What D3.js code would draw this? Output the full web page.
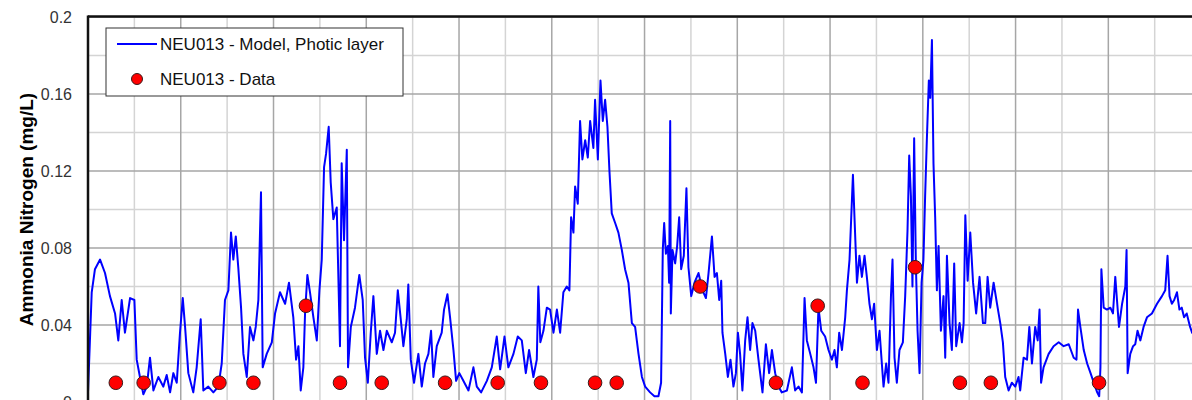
<!DOCTYPE html>
<html>
<head>
<meta charset="utf-8">
<script src="https://cdn.jsdelivr.net/npm/d3@7"></script>
<style>
    body { margin: 0; background: #fff; }
    svg { display: block; font-family: Arial, "Liberation Sans", sans-serif; }
</style>
</head>
<body>
<div id="chart"></div>
<script>
// model output: [day, ammonia nitrogen mg/L]
var modelSeries = [
    [0, 0.005], [2.4, 0.057], [4.5, 0.069], [7.8, 0.074], [11, 0.067], [14.2, 0.055], [17.5, 0.046], [19.6, 0.032],
    [21.8, 0.053], [23.9, 0.036], [27.2, 0.054], [30, 0.053], [31.5, 0.022], [33.6, 0.013], [35.8, 0.004], [38, 0.008],
    [40.1, 0.023], [42.3, 0.006], [45.5, 0.013], [48.7, 0.008], [50.9, 0.014], [53.1, 0.005], [55.2, 0.015], [57.4, 0.010],
    [59.5, 0.036], [61.3, 0.054], [62.8, 0.039], [64.9, 0.015], [68.1, 0.005], [70.3, 0.018], [72.9, 0.043], [74.6, 0.006],
    [77.8, 0.008], [81.1, 0.005], [84.3, 0.008], [86.5, 0.020], [88.6, 0.053], [90.8, 0.058], [92.5, 0.088], [94, 0.074],
    [95.6, 0.086], [97.2, 0.070], [99, 0.049], [100.5, 0.025], [102.7, 0.013], [104.8, 0.039], [107, 0.032], [108.5, 0.039],
    [110.2, 0.053], [111.9, 0.109], [113, 0.018], [115.6, 0.025], [118.9, 0.031],
    [121, 0.046], [124.2, 0.057], [127.5, 0.051], [130, 0.062], [132.8, 0.044], [134.6, 0.022], [136.1, 0.029], [137.6, 0.006],
    [139.3, 0.018], [140.4, 0.046], [141.9, 0.066], [143.6, 0.057], [145.8, 0.044], [148, 0.032], [149.7, 0.058], [151.2, 0.074],
    [152.7, 0.122], [154, 0.129], [155.7, 0.143], [157, 0.114], [158.7, 0.095], [160.9, 0.101], [163, 0.029], [164.1, 0.124],
    [165.6, 0.084], [167.4, 0.131], [168.2, 0.018], [170, 0.039], [172.7, 0.049], [175.5, 0.066], [177.7, 0.053], [179.2, 0.023],
    [181, 0.010], [182.9, 0.036], [184.6, 0.055], [186.8, 0.025], [188.9, 0.037], [191.1, 0.027], [193.3, 0.037], [196.5, 0.031],
    [198.6, 0.036], [200.4, 0.058], [202.3, 0.043], [204, 0.029], [206.2, 0.043], [207.2, 0.061], [208.8, 0.022], [210.9, 0.010],
    [213.7, 0.025], [215.9, 0.008], [218, 0.020], [220.2, 0.025], [221.9, 0.037], [223.4, 0.013], [225.6, 0.029], [228.8, 0.036],
    [230.3, 0.048], [232.5, 0.056], [234.2, 0.044], [236.4, 0.027], [238.1, 0.011],
    [240.2, 0.015], [242.8, 0.011], [246.1, 0.006], [249.3, 0.018], [251.5, 0.008], [254.3, 0.005], [258, 0.011], [261.2, 0.018],
    [264.4, 0.034], [266.6, 0.017], [269.4, 0.034], [271.9, 0.018], [275.2, 0.025], [278, 0.034], [280.6, 0.032], [283.2, 0.015],
    [285.3, 0.027], [288.1, 0.013], [290.3, 0.022], [291.3, 0.060], [292.6, 0.031], [294.6, 0.037], [296.8, 0.049], [298.9, 0.048],
    [301.1, 0.036], [303.3, 0.048], [305.4, 0.036], [307.5, 0.057], [309.7, 0.060], [311.4, 0.058], [312.5, 0.096], [314, 0.088],
    [315.1, 0.112], [316.8, 0.103], [318.3, 0.146], [319.8, 0.126], [321.6, 0.136], [323.3, 0.127], [324.8, 0.146], [326.9, 0.132],
    [328, 0.157], [329.8, 0.126], [331.5, 0.167], [333, 0.146], [334.5, 0.157], [336, 0.143], [337.3, 0.120], [338.8, 0.098],
    [341, 0.093], [343.1, 0.088], [345.3, 0.079], [347.4, 0.069], [349.6, 0.062], [351.8, 0.041], [353.9, 0.039], [356.1, 0.025],
    [358.3, 0.013], [360.4, 0.008], [363.6, 0.005], [366.4, 0.003],
    [369, 0.003], [370.7, 0.010], [371.8, 0.079], [372.7, 0.093], [373.8, 0.077], [375.1, 0.081], [375.9, 0.062], [376.6, 0.146],
    [377, 0.046], [378.1, 0.079], [379.8, 0.072], [381.1, 0.081], [382.4, 0.096], [383.7, 0.069], [385.4, 0.076], [387.1, 0.111],
    [388.4, 0.070], [390.2, 0.055], [392.3, 0.062], [394.9, 0.067], [397.5, 0.058], [399.7, 0.054], [401.4, 0.067], [403.6, 0.086],
    [405.3, 0.065], [406.8, 0.067], [408.3, 0.053], [409.6, 0.063], [410.4, 0.036], [412.2, 0.025], [413.9, 0.013], [415.6, 0.022],
    [417.5, 0.008], [419.1, 0.015], [420.4, 0.036], [421.8, 0.025], [423.3, 0.006], [425.1, 0.032], [426.6, 0.044], [428.3, 0.027],
    [429.8, 0.041], [431.6, 0.037], [433.7, 0.022], [436.3, 0.005], [438.5, 0.030], [440.6, 0.015], [442.4, 0.027], [444.5, 0.015],
    [446.6, 0.008], [448.8, 0.005], [452.1, 0.006], [455.3, 0.018], [457.4, 0.006], [459.6, 0.008], [461.8, 0.005], [463.5, 0.054],
    [465, 0.032], [467.2, 0.025], [469.3, 0.018], [470.9, 0.010], [472.5, 0.049], [474.3, 0.037], [476.8, 0.034], [479, 0.027],
    [481.2, 0.022], [482.9, 0.027],
    [484.4, 0.018], [485.9, 0.036], [487.7, 0.027], [489.8, 0.044], [490.9, 0.058], [492.6, 0.074], [493.7, 0.096], [494.8, 0.118],
    [495.8, 0.096], [497.4, 0.062], [499, 0.076], [500.6, 0.065], [502.3, 0.076], [503.8, 0.065], [505.5, 0.051], [507.1, 0.043],
    [508.5, 0.051], [510.3, 0.027], [512, 0.037], [513.5, 0.020], [514.6, 0.008], [516.3, 0.020], [517.8, 0.010], [519.4, 0.055],
    [520.4, 0.074], [521.7, 0.023], [523.2, 0.010], [524.9, 0.027], [527.1, 0.031], [528.6, 0.055], [530.1, 0.089], [531.2, 0.128],
    [532.3, 0.107], [533.3, 0.060], [534.4, 0.137], [535.5, 0.072], [536.6, 0.037], [537.9, 0.015], [539.2, 0.062], [540.4, 0.074],
    [541.5, 0.107], [542.6, 0.136], [543.9, 0.167], [544.8, 0.158], [545.9, 0.188], [546.9, 0.124], [548, 0.096], [549.1, 0.058],
    [550.2, 0.081], [551.7, 0.037], [553.4, 0.055], [554.5, 0.023], [555.6, 0.076], [557.3, 0.041], [558.8, 0.027], [560.3, 0.072],
    [561.6, 0.029], [563.8, 0.041], [565.3, 0.031], [566.4, 0.041], [567.5, 0.097], [569, 0.063], [570.7, 0.088], [572.5, 0.062],
    [574.5, 0.046], [576.7, 0.065], [578.9, 0.041], [580.4, 0.041], [581.9, 0.065], [583.6, 0.049], [585.8, 0.062], [588, 0.051],
    [590.1, 0.041], [591.8, 0.031], [593.3, 0.013], [595.5, 0.006], [597.6, 0.010], [599.8, 0.008], [601.9, 0.013],
    [603, 0.006], [605.2, 0.023], [607.4, 0.022], [608.9, 0.039], [610.6, 0.020], [612.7, 0.039], [614.3, 0.032], [615.5, 0.048],
    [616.5, 0.010], [618.1, 0.018], [621.4, 0.025], [624.6, 0.029], [627.9, 0.031], [631.1, 0.029], [634.4, 0.030], [637.6, 0.023],
    [639.4, 0.022], [640.4, 0.048], [641.9, 0.039], [644.1, 0.027], [646.3, 0.020], [648.5, 0.015], [650.6, 0.010], [652.8, 0.005],
    [654.1, 0.003], [654.9, 0.018], [655.5, 0.069], [657, 0.049], [659.1, 0.048], [661.3, 0.049], [663, 0.046], [664.5, 0.065],
    [665.6, 0.053], [666.9, 0.039], [668.9, 0.051], [671, 0.060], [671.8, 0.079], [672.5, 0.015], [674.2, 0.025], [676, 0.029],
    [677.4, 0.030], [678.9, 0.037], [680.7, 0.032], [682.8, 0.039], [685, 0.044], [688.2, 0.046], [691.5, 0.051], [694.7, 0.055],
    [696.8, 0.058], [698.3, 0.076], [699.6, 0.055], [701.1, 0.051], [702.6, 0.053], [704.4, 0.057], [706, 0.048], [707.5, 0.049],
    [709, 0.044], [710.7, 0.046], [712.9, 0.039], [714.2, 0.036], [716, 0.034]
];

// field samples
var dataDays = [18, 36, 85, 107, 141, 163, 190, 231, 265, 293, 328, 342, 396, 445, 472, 501, 535, 564, 584, 654];
var dataConc = [0.01, 0.01, 0.01, 0.01, 0.05, 0.01, 0.01, 0.01, 0.01, 0.01, 0.01, 0.01, 0.06, 0.01, 0.05, 0.01, 0.07, 0.01, 0.01, 0.01];

var yTicks = [0, 0.04, 0.08, 0.12, 0.16, 0.2];
var yLabels = ['0', '0.04', '0.08', '0.12', '0.16', '0.2'];
var yMinor = [0.02, 0.06, 0.1, 0.14, 0.18];
var xMajor = d3.range(0, 741, 60);
var xMinor = d3.range(30, 741, 60);

var legendNames = ['NEU013 - Model, Photic layer', 'NEU013 - Data'];

var w = 1192, h = 400;
var plotLeft = 88, plotTop = 17, plotRight = 1232, plotBottom = 402;

var svg = d3.select('#chart').append('svg')
    .attr('width', w)
    .attr('height', h)
;

var xscale = d3.scaleLinear()
    .domain([0, 740])
    .range([plotLeft, plotRight]);

var yscale = d3.scaleLinear()
    .domain([0, 0.2])
    .range([plotBottom, plotTop]);

// grid
var grid = svg.append('g');
grid.selectAll('.vminor')
    .data(xMinor)
    .enter()
    .append('line')
    .attr('x1', function (d) { return xscale(d); })
    .attr('x2', function (d) { return xscale(d); })
    .attr('y1', plotTop)
    .attr('y2', plotBottom)
    .attr('stroke', '#d4d4d4')
    .attr('stroke-width', 1.5)
;
grid.selectAll('.hminor')
    .data(yMinor)
    .enter()
    .append('line')
    .attr('x1', plotLeft)
    .attr('x2', plotRight)
    .attr('y1', function (d) { return yscale(d); })
    .attr('y2', function (d) { return yscale(d); })
    .attr('stroke', '#d4d4d4')
    .attr('stroke-width', 1.5)
;
grid.selectAll('.vmajor')
    .data(xMajor)
    .enter()
    .append('line')
    .attr('x1', function (d) { return xscale(d); })
    .attr('x2', function (d) { return xscale(d); })
    .attr('y1', plotTop)
    .attr('y2', plotBottom)
    .attr('stroke', '#a6a6a6')
    .attr('stroke-width', 1.5)
;
grid.selectAll('.hmajor')
    .data(yTicks)
    .enter()
    .append('line')
    .attr('x1', plotLeft)
    .attr('x2', plotRight)
    .attr('y1', function (d) { return yscale(d); })
    .attr('y2', function (d) { return yscale(d); })
    .attr('stroke', '#a6a6a6')
    .attr('stroke-width', 1.5)
;

// model line
var line = d3.line()
    .x(function (d) { return xscale(d[0]); })
    .y(function (d) { return yscale(d[1]); })
    .curve(d3.curveLinear)
;
svg.append('path')
    .attr('d', line(modelSeries))
    .attr('stroke', '#0000ff')
    .attr('stroke-width', 2)
    .attr('stroke-linejoin', 'round')
    .attr('fill', 'none')
;

// data points
svg.append('g').selectAll('circle')
    .data(dataDays)
    .enter()
    .append('circle')
    .attr('cx', function (d) { return xscale(d); })
    .attr('cy', function (d, i) { return yscale(dataConc[i]); })
    .attr('r', 6.8)
    .attr('fill', '#ff0000')
    .attr('stroke', '#3a1a1a')
    .attr('stroke-width', 1)
;

// frame (top + left visible)
svg.append('line')
    .attr('x1', plotLeft).attr('x2', plotRight)
    .attr('y1', plotTop - 0.5).attr('y2', plotTop - 0.5)
    .attr('stroke', '#111').attr('stroke-width', 2.5);
svg.append('line')
    .attr('x1', plotLeft).attr('x2', plotLeft)
    .attr('y1', plotTop - 1.5).attr('y2', plotBottom)
    .attr('stroke', '#111').attr('stroke-width', 2.5);

// y axis labels
svg.append('g').selectAll('text')
    .data(yTicks)
    .enter()
    .append('text')
    .text(function (d, i) { return yLabels[i]; })
    .attr('x', 72)
    .attr('y', function (d) { return yscale(d); })
    .attr('dy', '0.35em')
    .attr('text-anchor', 'end')
    .attr('font-size', '16px')
    .attr('fill', '#333')
;

svg.append('text')
    .text('Ammonia Nitrogen (mg/L)')
    .attr('transform', 'translate(33,' + ((plotTop + plotBottom) / 2) + ') rotate(-90)')
    .attr('text-anchor', 'middle')
    .attr('font-size', '19px')
    .attr('font-weight', 'bold')
    .attr('fill', '#000')
;

// legend
var lg = svg.append('g').attr('transform', 'translate(106,28)');
lg.append('rect')
    .attr('width', 297)
    .attr('height', 68)
    .attr('fill', '#fff')
    .attr('stroke', '#333')
    .attr('stroke-width', 1)
;
lg.append('line')
    .attr('x1', 11).attr('x2', 51)
    .attr('y1', 16).attr('y2', 16)
    .attr('stroke', '#0000ff').attr('stroke-width', 2);
lg.append('circle')
    .attr('cx', 31).attr('cy', 51).attr('r', 5.5)
    .attr('fill', '#ff0000').attr('stroke', '#3a1a1a').attr('stroke-width', 1);
lg.selectAll('.ltext')
    .data(legendNames)
    .enter()
    .append('text')
    .text(function (d) { return d; })
    .attr('x', 54)
    .attr('y', function (d, i) { return 16 + i * 35; })
    .attr('dy', '0.35em')
    .attr('font-size', '17px')
    .attr('fill', '#111')
;
</script>
</body>
</html>
